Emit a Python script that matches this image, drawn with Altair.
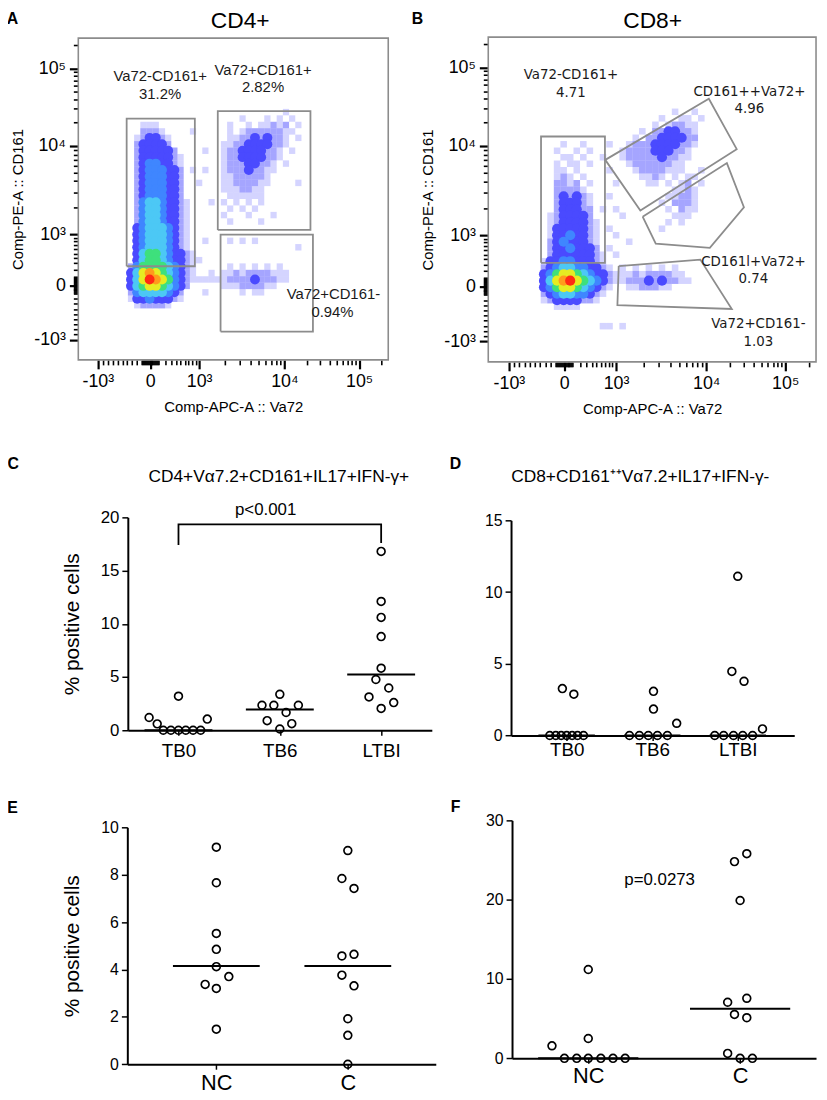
import altair as alt
import pandas as pd

FONT = "Liberation Sans"
W, H = 819, 1092

# ---------------- Flow panels (A, B): logicle channel units 0-100 ----------------
MAJOR_POS = [6.3, 23.2, 39.0, 66.5, 90.6]
MAJOR_TXT = ["-10³", "0", "10³", "10⁴", "10⁵"]
MINOR_POS = [7.9, 9.5, 11.1, 12.7, 14.3, 15.8, 17.4, 19.0, 20.6,
             20.9, 21.2, 21.5, 21.8, 22.0, 22.3, 22.6, 22.9,
             23.5, 23.8, 24.1, 24.4, 24.6, 24.9, 25.2, 25.5, 25.8,
             28.0, 30.0, 31.6, 33.0, 34.4, 35.6, 36.8, 37.9,
             47.3, 52.1, 55.6, 58.2, 60.4, 62.2, 63.8, 65.2,
             73.8, 78.0, 81.0, 83.3, 85.3, 86.9, 88.3, 89.5, 97.9]

# density grid: cell 2 channel units, columns start at x=14, first row starts at y=top
GRID_X0 = 14
GRID_A_TOP = 76
GRID_A = [
    "..........................a.....",
    "...................a...a.a.a....",
    "...aaa...........a..a.aabab.a...",
    "...bbba....a.....a.abbbbbbaa....",
    "..ab11ba.........aabb1b1bba.a...",
    "..b1111b........aabb1111bba.....",
    "..b11111b....a..abb1111bba.a....",
    "..b11111ba......abb1111bba......",
    "..b12211ba......abbb11bba.a.....",
    "..b122211b.a.a..abbb1bbaa.......",
    "..b122211b......aabbbbba........",
    "..b122211b..a...aabbbbaa....a...",
    "..b122211b......aaabbaa.........",
    "..b122211b.......aaaaaa.........",
    "..b233211ba...a.a.a.a.a.........",
    "..b233211ba......a.a.a..........",
    "..b233211ba.....a...a...a.......",
    "..b233211ba......a....a.........",
    "..1233321ba.....................",
    "..1233321ba.....................",
    "..1233321ba..a...a.a.a..........",
    "..1233321ba.................a...",
    "..13443211ba....................",
    "..13443211baa...................",
    ".b24444321ba.....a.a.a.a.a......",
    ".135654321ba..a.aababbbbaaa.....",
    ".135765421baaaaaabbbb1bbbaa.....",
    ".134554321b.....aaabbbbaa.......",
    ".b2333321b...a.....a.aa.........",
    ".a112111ba......................",
    "..abbbba........................",
]
GRID_B_TOP = 76
GRID_B = [
    ".....................a..a.......",
    "...................a..aa.a......",
    "..................a.abbaa.......",
    "................a.bb11bba.......",
    "...............a.bb1111bb.......",
    "....a..a...a..abbb1111bba.......",
    "...a..a.a....abbbb111bba........",
    "....aa.a..a..abbbbb1bbaa........",
    "...a.aa.a.....abbbbbbaa.........",
    "...aa.a....a...abbbbaaa..a......",
    "...aba.a........aaba.a.aa.......",
    "...bbab.a...a....aa.a.ab.a......",
    "...bbbba.............aaba.......",
    "...b1b1ba..a........aabba.......",
    "...b111ba..........a.bbba.......",
    "...b111bb.a.a.......a.baa.......",
    "..ab1111b....a.......aaa........",
    "..ab1111ba..........a.a.........",
    "..a11111ba.a.......a............",
    "..a11211ba..a...................",
    "..b12111ba....a.................",
    "..b112111b.a....................",
    "..b111111ba.a...................",
    ".a1122111ba.....................",
    ".b12332211ba.a.a.a.a.a..........",
    ".1245543211baaababbbbaa.........",
    ".1356754321baabbb1b1bbaa........",
    ".124554321ba..aabbbaa...........",
    ".b1233221ba.....................",
    ".ab1111bba......................",
    "...aaaa.........................",
    "................................",
    "................................",
    "..........aa.a..................",
]
SPARSE_LEVELS = ["a", "b"]
SPARSE_COLORS = ["rgba(40,40,255,0.20)", "rgba(40,40,255,0.42)"]
DENSE_LEVELS = ["1", "2", "3", "4", "5", "6", "7"]
DENSE_COLORS = ["#4a4aff", "#3f86ff", "#4cc8f5", "#3ee07c", "#e6ec22", "#ff9b1c", "#ff2a14"]

# gates (channel units)
A_GATES = {
    "g1": ([15.6, 37.6, 37.6, 15.6, 15.6], [29.1, 29.1, 75.0, 75.0, 29.1]),
    "g2": ([45.0, 74.9, 74.9, 45.0, 45.0], [40.4, 40.4, 77.3, 77.3, 40.4]),
    "g3": ([45.9, 75.7, 75.7, 45.9, 45.9], [8.8, 8.8, 38.9, 38.9, 8.8]),
}
B_GATES = {
    "g1": ([16.1, 35.6, 35.6, 16.1, 16.1], [30.5, 30.5, 69.4, 69.4, 30.5]),
    "g2": ([35.7, 67.3, 75.8, 46.4, 35.7], [62.2, 81.0, 65.5, 46.6, 62.2]),
    "g3": ([47.1, 72.8, 78.0, 67.6, 51.1, 47.1], [44.7, 61.2, 47.6, 35.1, 36.4, 44.7]),
    "g4": ([39.8, 64.7, 74.3, 39.4, 39.8], [29.5, 31.5, 16.3, 17.5, 29.5]),
}
A_LABEL_TXT = ["Va72-CD161+", "31.2%", "Va72+CD161+", "2.82%", "Va72+CD161-", "0.94%"]
A_LABEL_X = [26.4, 26.4, 59.6, 59.6, 82.3, 82.0]
A_LABEL_Y = [88.1, 82.5, 90.2, 84.7, 20.4, 14.8]
B_LABEL_TXT = ["Va72-CD161+", "4.71", "CD161++Va72+", "4.96", "CD161l+Va72+", "0.74",
               "Va72+CD161-", "1.03"]
B_LABEL_X = [25.2, 25.2, 79.7, 79.7, 80.9, 80.9, 82.4, 82.4]
B_LABEL_Y = [88.2, 82.8, 83.1, 77.7, 30.7, 25.4, 11.7, 6.1]

# ---------------- Dot plots (C-F) ----------------
C_GROUPS = ["TB0", "TB6", "LTBI"]
C_TB0 = [1.2, 0.6, 0, 0, 0, 0, 0, 0, 1.05, 3.2]
C_TB0_DODGE = [-0.29, -0.21, -0.15, -0.075, 0, 0.072, 0.144, 0.219, 0.284, 0]
C_TB6 = [2.35, 2.35, 1.67, 2.35, 3.38, 0.9, 0.62, 0.12]
C_TB6_DODGE = [-0.176, -0.059, 0.062, 0.183, 0, -0.125, 0.118, 0]
C_LTBI = [16.8, 12.1, 10.6, 8.8, 5.83, 4.77, 3.97, 3.13, 2.6, 2.05]
C_LTBI_DODGE = [0, 0, 0, 0, 0, -0.052, 0.075, -0.12, 0.124, 0]
C_MEDIAN = [0, 1.95, 5.24]

D_GROUPS = ["TB0", "TB6", "LTBI"]
D_TB0 = [3.27, 2.88, 0, 0, 0, 0, 0, 0, 0]
D_TB0_DODGE = [-0.05, 0.084, -0.197, -0.127, -0.064, 0, 0.064, 0.127, 0.197]
D_TB6 = [3.08, 1.84, 0.85, 0, 0, 0, 0, 0]
D_TB6_DODGE = [0.015, 0.015, 0.286, -0.266, -0.15, -0.046, 0.061, 0.177]
D_LTBI = [11.1, 4.47, 3.78, 0.46, 0, 0, 0, 0, 0]
D_LTBI_DODGE = [0, -0.069, 0.073, 0.289, -0.269, -0.165, -0.05, 0.058, 0.173]
D_MEDIAN = [0, 0, 0]

E_GROUPS = ["NC", "C"]
E_NC = [9.16, 7.66, 5.52, 4.85, 4.12, 3.37, 3.2, 3.7, 1.48]
E_NC_DODGE = [0, 0, 0, 0, 0, -0.085, 0, 0.095, 0]
E_C = [9.02, 7.84, 7.42, 4.57, 4.64, 3.76, 3.31, 1.92, 1.22, 0]
E_C_DODGE = [0, -0.045, 0.047, -0.045, 0.047, -0.045, 0.047, 0, 0, 0]
E_MEDIAN = [4.15, 4.15]

F_GROUPS = ["NC", "C"]
F_NC = [1.58, 11.2, 2.5, 0, 0, 0, 0, 0, 0]
F_NC_DODGE = [-0.239, 0, 0, -0.157, -0.076, 0, 0.083, 0.163, 0.243]
F_C = [25.8, 24.8, 19.9, 7.57, 7.07, 5.53, 5.12, 0.62, 0, 0]
F_C_DODGE = [0.044, -0.037, 0, 0.044, -0.082, -0.037, 0.044, -0.082, 0, 0.081]
F_MEDIAN = [0, 6.24]

C_BRACKET_X = [0, 0, 2, 2]
C_BRACKET_Y = [17.4, 19.35, 19.35, 17.6]


# ---------------- helpers ----------------
def lbl_expr(pos, txt):
    return " : ".join(f"datum.value == {p} ? '{t}'" for p, t in zip(pos, txt)) + " : ''"


def flow_axis(orient, offset, title, tpad):
    test = f"indexof({MAJOR_POS}, datum.value) >= 0"
    return alt.Axis(
        orient=orient, offset=offset, title=title, values=MAJOR_POS + MINOR_POS,
        labelExpr=lbl_expr(MAJOR_POS, MAJOR_TXT), domain=False, grid=False,
        tickColor="black",
        tickSize={"condition": {"test": test, "value": 9}, "value": 5},
        tickWidth={"condition": {"test": test, "value": 2.2}, "value": 1.6},
        labelFont=FONT, labelFontSize=18, labelColor="black", labelPadding=4,
        labelOverlap=False, labelFlush=False, labelBound=False,
        titleFont=FONT, titleFontSize=15, titleFontWeight="normal",
        titleColor="black", titlePadding=tpad,
    )


def grid_df(rows, top, levels):
    recs = []
    for j, row in enumerate(rows):
        for i, c in enumerate(row):
            if c in levels:
                recs.append({"x": GRID_X0 + 2 * i, "x2": GRID_X0 + 2 * i + 2,
                             "xc": GRID_X0 + 2 * i + 1,
                             "y": top - 2 * j, "y2": top - 2 * j + 2,
                             "yc": top - 2 * j + 1, "lvl": c, "rank": levels.index(c)})
    df = pd.DataFrame(recs)
    return df.sort_values("rank", kind="stable").reset_index(drop=True)


def gates_df(gates):
    recs = []
    for g, (gx, gy) in gates.items():
        for k, (a, b) in enumerate(zip(gx, gy)):
            recs.append({"x": a, "y": b, "g": g, "o": k})
    return pd.DataFrame(recs)


def flow_panel(rows, top, gates, ltxt, lx, ly, xrange, yrange, xoff, yoff, lfont, lsize, dot):
    xs = alt.Scale(domain=[0, 100], range=xrange, nice=False, zero=False)
    ys = alt.Scale(domain=[0, 100], range=yrange, nice=False, zero=False)
    ax_x = flow_axis("bottom", xoff, "Comp-APC-A :: Va72", 9)
    ax_y = flow_axis("left", yoff, "Comp-PE-A :: CD161", 8)
    X = alt.X("x:Q", scale=xs, axis=ax_x)
    Y = alt.Y("y:Q", scale=ys, axis=ax_y)
    sparse = alt.Chart(grid_df(rows, top, SPARSE_LEVELS)).mark_rect(strokeWidth=0).encode(
        X, Y, x2="x2:Q", y2="y2:Q",
        color=alt.Color("lvl:N", scale=alt.Scale(domain=SPARSE_LEVELS, range=SPARSE_COLORS),
                        legend=None))
    dense = alt.Chart(grid_df(rows, top, DENSE_LEVELS)).mark_circle(opacity=1, size=dot).encode(
        alt.X("xc:Q", scale=xs, axis=ax_x), alt.Y("yc:Q", scale=ys, axis=ax_y),
        fill=alt.Fill("lvl:N", scale=alt.Scale(domain=DENSE_LEVELS, range=DENSE_COLORS),
                      legend=None),
        order=alt.Order("rank:Q"))
    frame = alt.Chart(pd.DataFrame({"x": [0], "x2": [100], "y": [0], "y2": [100]})).mark_rect(
        fillOpacity=0, stroke="#8c8c8c", strokeWidth=1.6).encode(X, Y, x2="x2:Q", y2="y2:Q")
    gate = alt.Chart(gates_df(gates)).mark_line(color="#8c8c8c", strokeWidth=1.8).encode(
        X, Y, detail="g:N", order="o:Q")
    lab = alt.Chart(pd.DataFrame({"x": lx, "y": ly, "t": ltxt})).mark_text(
        font=lfont, fontSize=lsize, color="#1a1a1a").encode(X, Y, text="t:N")
    return alt.layer(sparse, dense, frame, gate, lab)


def dot_panel(groups, vals, dodges, medians, half, xdom, xrange, ydom, yrange, yvals,
              xoff, yoff, ytitle, ylab, xlab, xpad, extras=()):
    xs = alt.Scale(domain=xdom, range=xrange, nice=False, zero=False)
    ys = alt.Scale(domain=ydom, range=yrange, nice=False, zero=False)
    names = "[" + ",".join(f"'{g}'" for g in groups) + "]"
    X = alt.X("x:Q", scale=xs, axis=alt.Axis(
        orient="bottom", offset=xoff, values=list(range(len(groups))),
        labelExpr=f"{names}[datum.value]", title=None, grid=False,
        domainColor="black", domainWidth=2, tickColor="black", tickWidth=1.5, tickSize=5,
        labelFont=FONT, labelFontSize=xlab, labelColor="black", labelPadding=xpad,
        labelFlush=False, labelOverlap=False))
    Y = alt.Y("y:Q", scale=ys, axis=alt.Axis(
        orient="left", offset=yoff, values=yvals, title=ytitle, grid=False,
        domainColor="black", domainWidth=2, tickColor="black", tickWidth=1.5, tickSize=6,
        labelFont=FONT, labelFontSize=ylab, labelColor="black", labelPadding=3,
        labelFlush=False, labelOverlap=False,
        titleFont=FONT, titleFontSize=21, titleFontWeight="normal", titleColor="black",
        titlePadding=18))
    recs = []
    for gi, (vv, dd) in enumerate(zip(vals, dodges)):
        for v, d in zip(vv, dd):
            recs.append({"x": gi + d, "y": v})
    pts = alt.Chart(pd.DataFrame(recs)).mark_point(
        shape="circle", filled=False, color="black", strokeWidth=1.7, size=62, opacity=1
    ).encode(X, Y)
    mdf = pd.DataFrame({"x": [i - half for i in range(len(groups))],
                        "x2": [i + half for i in range(len(groups))],
                        "y": medians})
    med = alt.Chart(mdf).mark_rule(color="black", strokeWidth=2).encode(X, Y, x2="x2:Q")
    layers = [med, pts]
    for ex in extras:
        layers.append(ex(X, Y))
    return alt.layer(*layers)


def c_bracket(X, Y):
    df = pd.DataFrame({"x": C_BRACKET_X, "y": C_BRACKET_Y, "o": list(range(4))})
    return alt.Chart(df).mark_line(color="black", strokeWidth=1.8).encode(X, Y, order="o:Q")


def c_ptext(X, Y):
    return alt.Chart(pd.DataFrame({"x": [0.86], "y": [20.65], "t": ["p<0.001"]})).mark_text(
        font=FONT, fontSize=17, color="black").encode(X, Y, text="t:N")


def f_ptext(X, Y):
    return alt.Chart(pd.DataFrame({"x": [0.47], "y": [22.5], "t": ["p=0.0273"]})).mark_text(
        font=FONT, fontSize=17, color="black").encode(X, Y, text="t:N")


def label(txt, x, y, size, weight="normal", baseline="alphabetic"):
    return alt.Chart(pd.DataFrame({"a": [0]})).mark_text(
        text=txt, font=FONT, fontSize=size, fontWeight=weight, color="black",
        align="center", baseline=baseline).encode(x=alt.value(x), y=alt.value(y))


panelA = flow_panel(GRID_A, GRID_A_TOP, A_GATES, A_LABEL_TXT, A_LABEL_X, A_LABEL_Y,
                    [71, 384], [350, 25], -742, -71, FONT, 15, 100)
panelB = flow_panel(GRID_B, GRID_B_TOP, B_GATES, B_LABEL_TXT, B_LABEL_X, B_LABEL_Y,
                    [485, 816], [352, 24], -740, -485, "DejaVu Sans", 13.5, 105)

panelC = dot_panel(C_GROUPS, [C_TB0, C_TB6, C_LTBI], [C_TB0_DODGE, C_TB6_DODGE, C_LTBI_DODGE],
                   C_MEDIAN, 0.335, [-0.5, 2.5], [121, 428], [0, 20], [724, 509],
                   [0, 5, 10, 15, 20], -368, -121, "% positive cells", 17, 19, 6,
                   extras=(c_bracket, c_ptext))
panelD = dot_panel(D_GROUPS, [D_TB0, D_TB6, D_LTBI], [D_TB0_DODGE, D_TB6_DODGE, D_LTBI_DODGE],
                   D_MEDIAN, 0.33, [-0.65, 2.66], [508, 794], [0, 15], [729.3, 512],
                   [0, 5, 10, 15], -362.7, -508, None, 16, 19, 0)
panelE = dot_panel(E_GROUPS, [E_NC, E_C], [E_NC_DODGE, E_C_DODGE],
                   E_MEDIAN, 0.33, [-0.677, 1.669], [120.5, 432], [0, 10], [1061.3, 822],
                   [0, 2, 4, 6, 8, 10], -30.7, -120.5, "% positive cells", 16, 22, 3)
panelF = dot_panel(F_GROUPS, [F_NC, F_C], [F_NC_DODGE, F_C_DODGE],
                   F_MEDIAN, 0.33, [-0.502, 1.5], [509, 816], [0, 30], [1055.3, 815],
                   [0, 10, 20, 30], -36.7, -509, None, 16, 22, 2,
                   extras=(f_ptext,))

texts = [
    label("A", 4.5, 11, 16, "bold"),
    label("B", 413.5, 11, 16, "bold"),
    label("C", 5.3, 460, 16, "bold"),
    label("D", 452, 460, 16, "bold"),
    label("E", 4.5, 808, 16, "bold"),
    label("F", 452, 807, 16, "bold"),
    label("CD4+", 234.5, 15, 23),
    label("CD8+", 651, 15, 23),
    label("CD4+Vα7.2+CD161+IL17+IFN-γ+", 273.5, 473, 17.5),
    label("CD8+CD161⁺⁺Vα7.2+IL17+IFN-γ-", 638.5, 473, 17.5),
]

chart = alt.layer(panelA, panelB, panelC, panelD, panelE, panelF, *texts).resolve_scale(
    x="independent", y="independent", color="independent", fill="independent"
).resolve_axis(x="independent", y="independent").properties(
    width=W, height=H, autosize=alt.AutoSizeParams(type="none"), padding=0
).configure_view(strokeWidth=0)

chart.save("out.html", embed_options={"renderer": "svg", "actions": False})
